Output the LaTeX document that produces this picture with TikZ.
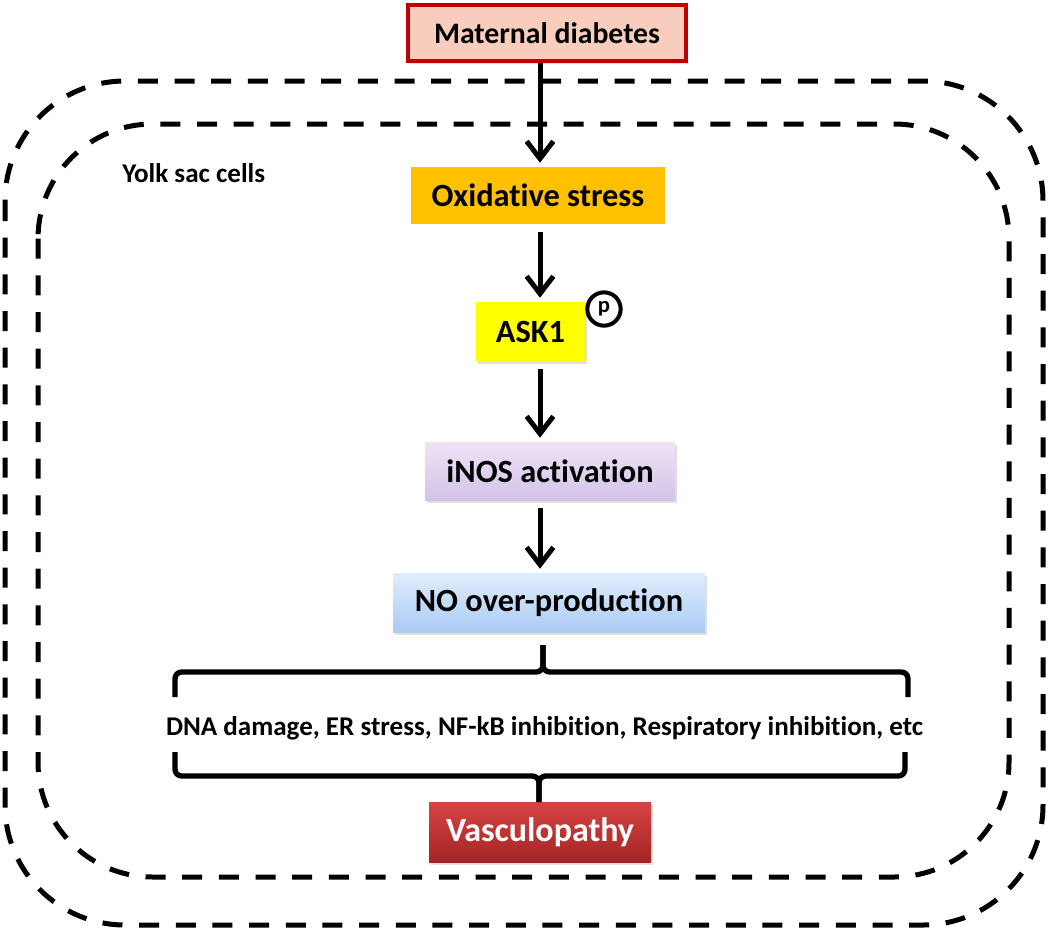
\documentclass[tikz,border=0pt]{standalone}
\usepackage{fontspec}
\setmainfont{Carlito}[Ligatures=CommonOff]
\usetikzlibrary{arrows.meta,shadows}

\definecolor{matred}{RGB}{192,0,0}
\definecolor{matfill}{RGB}{248,205,190}
\definecolor{oxgold}{RGB}{255,192,0}
\definecolor{askyellow}{RGB}{255,255,0}
\definecolor{inostop}{RGB}{238,228,246}
\definecolor{inosbot}{RGB}{212,194,232}
\definecolor{notop}{RGB}{224,237,252}
\definecolor{nobot}{RGB}{170,203,244}
\definecolor{vastop}{RGB}{214,68,66}
\definecolor{vasbot}{RGB}{164,36,36}

\begin{document}
\begin{tikzpicture}[x=0.75pt,y=0.75pt,yscale=-1,xscale=1,
	cellwall/.style={line width=3.75pt, dash pattern=on 15pt off 12.5pt},
	box/.style={inner sep=0pt, align=center, font=\bfseries\fontsize{24.3}{28}\selectfont},
	softshadow/.style={drop shadow={opacity=0.25, shadow xshift=1.5pt, shadow yshift=-2pt}},
	smalltext/.style={inner sep=0pt, font=\bfseries\fontsize{20.3}{24}\selectfont},
	flow/.style={line width=3.75pt, -{Straight Barb[length=13pt,width=20pt,line width=3.75pt]}, shorten <=6pt, shorten >=3pt},
	bracket/.style={line width=4pt, rounded corners=5pt}]
	%set diagram to the size of the reference
	\useasboundingbox (0,0) rectangle (1050,929);
	
	%Shape: Rounded Rect, outer wall
	\draw [cellwall, rounded corners=90pt] (5,81) rectangle (1043,925);
	%Shape: Rounded Rect, inner wall
	\draw [cellwall, rounded corners=86pt] (38,124) rectangle (1009,877);
	
	% Boxes
	\node [box, draw=matred, line width=3pt, fill=matfill, softshadow, minimum width=208.5pt, minimum height=42pt, font=\bfseries\fontsize{22.3}{26}\selectfont] (mat) at (547,33) {Maternal diabetes};
	\node [box, fill=oxgold, minimum width=190.5pt, minimum height=42.75pt] (ox) at (538,195.5) {Oxidative stress};
	\node [box, fill=askyellow, softshadow, minimum width=81.75pt, minimum height=44.25pt] (ask) at (530.5,331.5) {ASK1};
	\node [circle, draw, line width=3pt, inner sep=0pt, minimum size=25pt, font=\bfseries\fontsize{17}{19}\selectfont] (phos) at (604,309) {p};
	\node [box, top color=inostop, bottom color=inosbot, softshadow, minimum width=187.5pt, minimum height=43.5pt] (inos) at (550,471) {iNOS activation};
	\node [box, top color=notop, bottom color=nobot, softshadow, minimum width=234pt, minimum height=44.25pt] (no) at (549,602.5) {NO over-production};
	\node [box, top color=vastop, bottom color=vasbot, softshadow, text=white, minimum width=166.5pt, minimum height=45pt, font=\bfseries\fontsize{25.5}{29}\selectfont] (vas) at (540,832) {Vasculopathy};
	
	% Text Node
	\node [smalltext, anchor=west] (yolk) at (122,173) {Yolk sac cells};
	% Text Node
	\node [smalltext] (effects) at (544.5,728) {DNA damage, ER stress, NF-kB inhibition, Respiratory inhibition, etc};
	
	% Arrows
	\coordinate (axis) at (540,0);
	\draw [flow, shorten <=0pt] (mat.south -| axis) -- (ox.north -| axis);
	\draw [flow] (ox.south -| axis) -- (ask.north -| axis);
	\draw [flow] (ask.south -| axis) -- (inos.north -| axis);
	\draw [flow] (inos.south -| axis) -- (no.north -| axis);
	
	%Shape: Brace, upper
	\draw [bracket] (175,697) |- (543,672) -- (543,645);
	\draw [bracket] (908,697) |- (543,672) -- (543,645);
	%Shape: Brace, lower
	\draw [bracket] (175,752) |- (539,776) -- (539,802);
	\draw [bracket] (905,752) |- (539,776) -- (539,802);
	
\end{tikzpicture}
\end{document}
